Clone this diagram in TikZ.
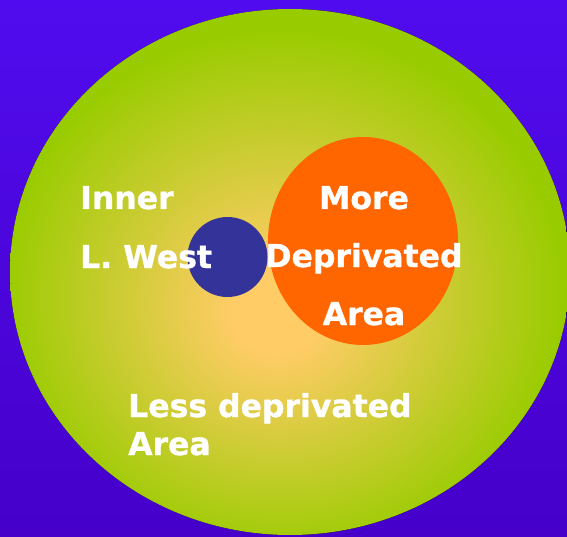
\documentclass[tikz,border=0pt]{standalone}
\usepackage{fontspec}
\usetikzlibrary{shapes.geometric}
\setmainfont{DejaVu Sans}
\newfontfamily\heavyfont{DejaVu Sans}[UprightFeatures={FakeBold=0}, BoldFeatures={FakeBold=1}]
\definecolor{bgtop}{HTML}{500CEE}
\definecolor{bgbot}{HTML}{4600CA}
\definecolor{glowin}{HTML}{FFCC66}
\definecolor{glowout}{HTML}{99CC00}
\definecolor{deporange}{HTML}{FF6600}
\definecolor{westblue}{HTML}{333399}
\pgfdeclareradialshading{glow}{\pgfpoint{-1.35bp}{-4.1bp}}{color(0bp)=(glowin); color(4bp)=(glowin); color(25bp)=(glowout); color(50bp)=(glowout)}
\tikzset{
  lbl/.style={text=white, font=\heavyfont\bfseries\fontsize{31.5}{36}\selectfont, inner sep=0pt},
}
\begin{document}
\begin{tikzpicture}[x=1pt,y=1pt]
\useasboundingbox (0,0) rectangle (567,536);
\shade[top color=bgtop, bottom color=bgbot] (0,0) rectangle (567,536);
\begin{scope}
\clip (0,0) rectangle (567,536);
\fill[shading=glow] (290,264) ellipse [x radius=280, y radius=263];
\end{scope}
\node[fill=deporange, ellipse, minimum width=190, minimum height=208, inner sep=0pt] (dep) at (363,295) {};
\node[fill=westblue, circle, minimum size=80, inner sep=0pt] (west) at (227.5,279) {};
\node[lbl, anchor=base west] (inner) at (80,327) {Inner};
\node[lbl, anchor=base west] (lwest) at (80,268) {L. West};
\node[lbl, anchor=base] (more) at (364,327) {More};
\node[lbl, anchor=base] (deprivated) at (364,269) {Deprivated};
\node[lbl, anchor=base] (area1) at (364,211) {Area};
\node[lbl, anchor=base west] (less) at (128,119) {Less deprivated};
\node[lbl, anchor=base west] (area2) at (128,81) {Area};
\end{tikzpicture}
\end{document}
